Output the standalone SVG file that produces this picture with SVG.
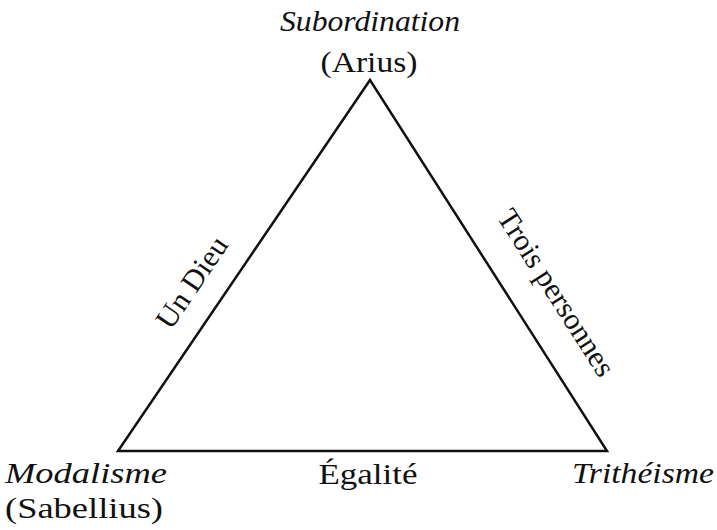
<svg xmlns="http://www.w3.org/2000/svg" width="717" height="530" viewBox="0 0 717 530">
<style>
text{font-size:30px;fill:#111}
.i{font-style:italic}
.edge{fill:none;stroke:#111;stroke-width:2.5;stroke-linejoin:miter}
</style>
<rect width="717" height="530" fill="#fff"/>
<g id="connectors">
<polygon class="edge" points="370,80 118,451 607,451"/>
</g>
<g font-family="Liberation Serif, serif">
<g id="node-subordination">
<text class="i" x="370" y="31" text-anchor="middle" textLength="180" lengthAdjust="spacingAndGlyphs">Subordination</text>
<text x="369" y="72" text-anchor="middle" textLength="97" lengthAdjust="spacingAndGlyphs">(Arius)</text>
</g>
<g id="node-modalisme">
<text class="i" x="5" y="483" textLength="162" lengthAdjust="spacingAndGlyphs">Modalisme</text>
<text x="5" y="518" textLength="158" lengthAdjust="spacingAndGlyphs">(Sabellius)</text>
</g>
<g id="node-tritheisme">
<text class="i" x="572" y="483" textLength="142" lengthAdjust="spacingAndGlyphs">Trithéisme</text>
</g>
<g id="labels">
<text x="368" y="484" text-anchor="middle" textLength="99" lengthAdjust="spacingAndGlyphs">Égalité</text>
<text transform="translate(200,288) rotate(-55.8)" text-anchor="middle" textLength="104" lengthAdjust="spacingAndGlyphs">Un Dieu</text>
<text transform="translate(548,298) rotate(57.4)" text-anchor="middle" textLength="192" lengthAdjust="spacingAndGlyphs">Trois personnes</text>
</g>
</g>
</svg>
